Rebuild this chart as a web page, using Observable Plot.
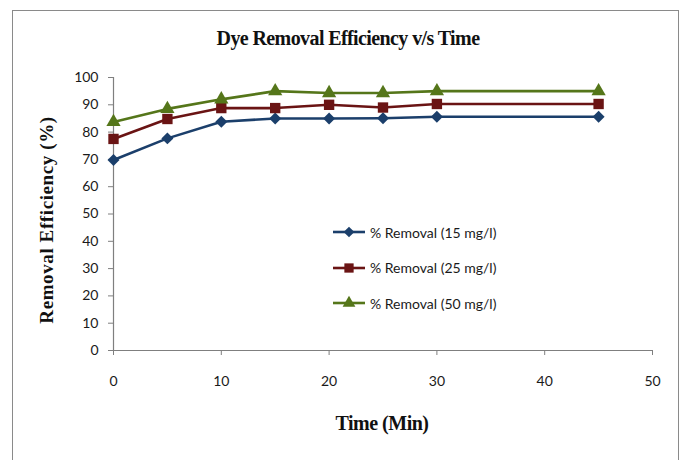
<!DOCTYPE html>
<html>
<head>
<meta charset="utf-8">
<script src="https://cdn.jsdelivr.net/npm/d3@7"></script>
<script src="https://cdn.jsdelivr.net/npm/@observablehq/plot@0.6"></script>
<style>
  body { margin: 0; background: #fff; }
  #wrap { position: relative; width: 684px; height: 460px; overflow: hidden; }
  #frame { position: absolute; left: 12px; top: 10px; width: 667px; height: 470px; border: 1.5px solid #8a8a8a; box-sizing: border-box; }
  .title { position: absolute; left: 0; width: 696px; top: 27px; text-align: center; font-family: "Liberation Serif", serif; font-weight: bold; font-size: 20px; letter-spacing: -0.6px; color: #111; }
  .xlabel { position: absolute; left: 282px; width: 200px; top: 412px; text-align: center; font-family: "Liberation Serif", serif; font-weight: bold; font-size: 20px; letter-spacing: -0.5px; color: #111; }
  .ylabel { position: absolute; left: 47px; top: 220px; transform: translate(-50%, -50%) rotate(-90deg); white-space: nowrap; font-family: "Liberation Serif", serif; font-weight: bold; font-size: 19px; letter-spacing: 0.6px; color: #111; }
  #legend { position: absolute; left: 332px; top: 222px; font-family: Lato, sans-serif; font-size: 14px; color: #1a1a1a; }
  .row { display: flex; align-items: center; height: 20px; margin-bottom: 15.5px; }
  .row svg { margin-right: 4px; }
  svg.plot text { fill: #1a1a1a; }
</style>
</head>
<body>
<div id="wrap"></div>
<script>
// Data
const time = [0, 5, 10, 15, 20, 25, 30, 45];
const removal15 = [69.8, 77.7, 83.8, 85.0, 85.0, 85.1, 85.6, 85.6];
const removal25 = [77.5, 84.8, 88.8, 88.8, 90.0, 89.0, 90.3, 90.3];
const removal50 = [83.7, 88.5, 92.0, 95.0, 94.3, 94.3, 95.0, 95.0];
const seriesNames = ["% Removal (15 mg/l)", "% Removal (25 mg/l)", "% Removal (50 mg/l)"];
const seriesColors = ["#1b3f6b", "#6a1414", "#55761a"];
const seriesSymbols = ["diamond2", "square2", "triangle2"];
const seriesR = [5.4, 6.6, 6.8];
const xTicks = [0, 10, 20, 30, 40, 50];
const yTicks = [0, 10, 20, 30, 40, 50, 60, 70, 80, 90, 100];
const titleText = "Dye Removal Efficiency v/s Time";
const xLabelText = "Time (Min)";
const yLabelText = "Removal Efficiency (%)";

const allValues = [removal15, removal25, removal50];
const data = [];
allValues.forEach((vals, si) => vals.forEach((v, i) => data.push({series: seriesNames[si], t: time[i], v})));

const marks = [
  Plot.ruleY([0], {stroke: "#7f7f7f", strokeWidth: 1.2}),
  Plot.ruleX([0], {stroke: "#7f7f7f", strokeWidth: 1.2}),
  Plot.axisX({ticks: xTicks, tickSize: 5, tickPadding: 21, stroke: "#7f7f7f", label: null, fontSize: 14, tickFormat: d => d}),
  Plot.axisY({ticks: yTicks, tickSize: 5, tickPadding: 10, stroke: "#7f7f7f", label: null, fontSize: 14, tickFormat: d => d})
];
seriesNames.forEach((name, si) => {
  const sub = data.filter(d => d.series === name);
  marks.push(Plot.line(sub, {x: "t", y: "v", stroke: seriesColors[si], strokeWidth: 2.6}));
  marks.push(Plot.dot(sub, {x: "t", y: "v", fill: seriesColors[si], stroke: "none", symbol: seriesSymbols[si], r: seriesR[si]}));
});

const chart = Plot.plot({
  width: 684,
  height: 460,
  marginLeft: 113,
  marginRight: 32,
  marginTop: 77,
  marginBottom: 110,
  style: {fontFamily: "Lato, sans-serif", fontSize: "14px", color: "#1a1a1a", background: "transparent"},
  x: {domain: [0, 50]},
  y: {domain: [0, 100]},
  marks
});

const wrap = document.getElementById("wrap");
const frame = document.createElement("div"); frame.id = "frame"; wrap.appendChild(frame);
wrap.appendChild(chart);
chart.style.position = "absolute"; chart.style.left = "0"; chart.style.top = "0";

const t = document.createElement("div"); t.className = "title"; t.textContent = titleText; wrap.appendChild(t);
const xl = document.createElement("div"); xl.className = "xlabel"; xl.textContent = xLabelText; wrap.appendChild(xl);
const yl = document.createElement("div"); yl.className = "ylabel"; yl.textContent = yLabelText; wrap.appendChild(yl);

const legend = document.createElement("div"); legend.id = "legend";
const symMap = {diamond2: d3.symbolDiamond2, square2: d3.symbolSquare2, triangle2: d3.symbolTriangle2};
seriesNames.forEach((name, si) => {
  const row = document.createElement("div"); row.className = "row";
  const s = d3.create("svg").attr("width", 34).attr("height", 20);
  s.append("line").attr("x1", 1).attr("x2", 33).attr("y1", 10).attr("y2", 10).attr("stroke", seriesColors[si]).attr("stroke-width", 2.6);
  s.append("path").attr("transform", "translate(17,10)")
    .attr("d", d3.symbol(symMap[seriesSymbols[si]], Math.PI * seriesR[si] * seriesR[si] * 0.8)())
    .attr("fill", seriesColors[si]);
  row.appendChild(s.node());
  const span = document.createElement("span"); span.textContent = name; row.appendChild(span);
  legend.appendChild(row);
});
wrap.appendChild(legend);
</script>
</body>
</html>
